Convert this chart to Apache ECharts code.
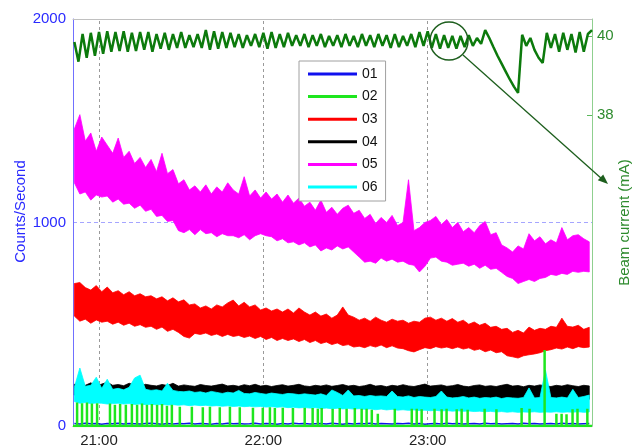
<!DOCTYPE html>
<html>
<head>
<meta charset="utf-8">
<script src="https://cdn.jsdelivr.net/npm/echarts@6.0.0/dist/echarts.min.js"></script>
<style>
html, body { margin: 0; padding: 0; background: #fff; }
#chart { width: 635px; height: 448px; }
</style>
</head>
<body>
<div id="chart"></div>
<script>
"use strict";

// time is in minutes after 20:00
var X_MIN = 50.5, X_MAX = 240;
var BAND_T0 = 51, BAND_STEP = 2;
var BEAM_T0 = 51, BEAM_STEP = 1.5;
var timeTicks = [60, 120, 180];
var beamTicks = [38, 40];
var names = ['01', '02', '03', '04', '05', '06'];

var ch05Hi = [1460,1530,1400,1440,1350,1420,1380,1340,1415,1320,
	1350,1290,1320,1270,1310,1250,1340,1240,1260,1190,
	1210,1160,1180,1150,1185,1140,1175,1150,1195,1160,
	1140,1225,1130,1160,1120,1150,1115,1140,1100,1135,
	1095,1120,1080,1100,1060,1110,1050,1075,1040,1070,
	1085,1045,1060,1020,1040,995,1025,1000,1035,985,
	1000,1210,960,975,1000,1010,1030,990,1015,975,
	1000,955,975,950,985,1005,940,950,890,875,
	855,885,870,945,910,930,895,915,900,975,
	915,935,940,920,905];
var ch05Lo = [1195,1140,1150,1110,1135,1125,1130,1100,1115,1090,
	1095,1070,1085,1055,1065,1030,1035,1005,1010,960,
	950,965,940,965,945,950,930,945,935,935,
	925,940,915,935,945,935,930,910,920,900,
	905,890,900,880,890,860,875,865,885,870,
	880,855,830,805,810,800,825,810,820,805,
	810,795,790,757,785,825,830,810,805,790,
	795,800,785,795,775,790,770,775,755,735,
	725,700,710,720,710,725,730,745,740,750,
	745,760,755,760,757];

var ch03Hi = [700,705,680,668,690,660,683,655,665,645,
	660,640,650,635,640,625,635,615,630,610,
	620,595,600,580,590,575,595,585,605,619,
	590,608,585,595,570,580,565,575,560,575,
	555,580,560,545,560,540,550,530,545,585,
	545,535,520,530,515,535,520,510,525,515,
	520,505,515,510,530,535,520,530,515,528,
	510,520,500,511,495,505,485,490,475,480,
	460,470,457,486,470,480,475,490,485,530,
	490,486,495,475,485];
var ch03Lo = [540,515,525,505,521,510,515,500,510,495,
	505,490,498,485,490,475,486,465,475,460,
	440,432,455,450,457,445,452,440,450,440,
	445,435,442,430,440,425,435,420,430,420,
	428,415,425,410,420,405,413,400,408,395,
	400,388,392,385,395,388,398,385,394,383,
	380,370,364,375,385,380,390,383,388,380,
	388,378,384,372,378,365,373,360,365,345,
	340,334,345,350,354,360,370,375,383,378,
	388,380,390,385,388];

var ch04Hi = [205,210,200,212,198,206,215,200,204,198,
	210,202,196,205,200,197,204,199,210,196,
	202,198,195,204,199,196,201,206,197,200,
	195,203,198,205,196,200,194,199,203,196,
	200,205,197,194,200,196,202,195,199,204,
	196,200,194,198,205,196,199,193,200,196,
	203,197,194,200,206,196,199,202,195,198,
	204,196,193,199,202,195,198,194,200,205,
	196,199,193,200,196,202,197,194,200,196,
	203,198,194,200,197];
var ch04Lo = [152,148,150,146,151,147,149,145,150,146,
	148,144,149,145,147,143,148,144,146,142,
	147,143,145,141,146,142,144,140,145,141,
	143,139,144,140,142,138,143,139,141,137,
	142,138,140,136,141,137,139,135,140,136,
	138,134,139,135,137,133,138,134,136,132,
	137,133,135,131,136,132,134,130,135,131,
	133,130,134,130,133,129,134,130,132,128,
	133,129,131,128,132,129,131,128,132,129,
	131,128,132,129,131];

var ch06Hi = [190,285,195,200,240,185,230,180,185,178,
	190,236,250,180,175,178,172,210,175,170,
	168,172,165,168,162,170,165,160,166,162,
	175,160,158,165,160,156,162,158,155,160,
	158,154,158,155,152,158,150,177,165,150,
	177,148,150,145,150,146,148,145,172,145,
	142,148,140,145,142,140,145,172,142,138,
	140,145,138,142,136,140,138,142,135,140,
	138,136,140,187,138,140,275,140,138,142,
	138,180,140,145,152];
var ch06Lo = [120,112,115,110,113,112,108,110,112,108,
	110,106,108,105,107,104,106,103,105,102,
	104,100,103,100,102,98,100,97,99,96,
	98,95,97,94,96,93,95,92,94,90,
	92,89,91,88,90,86,88,85,87,84,
	86,83,85,82,84,80,83,79,82,78,
	80,77,79,76,78,75,77,74,76,73,
	75,72,74,71,73,70,72,69,71,68,
	70,67,69,68,70,67,69,68,70,67,
	69,68,70,67,69];

var ch01 = [12,10,13,11,12,9,12,11,13,10,
	12,11,10,12,13,11,9,12,10,12,
	11,13,10,12,11,9,12,10,13,11,
	12,10,11,13,10,12,11,9,12,10,
	13,11,12,10,11,12,10,13,11,9,
	12,10,12,11,13,10,12,11,10,12,
	11,13,10,12,9,11,12,10,13,11,
	12,10,11,12,10,13,11,12,10,11,
	12,10,13,11,12,10,11,12,10,13,
	11,12,10,11,12];

var ch02SpikeTimes = [52.0,53.8,55.6,57.4,59.3,64.0,65.8,67.7,69.8,72.0,
	73.9,75.7,77.5,79.3,81.2,83.0,84.8,86.6,89.5,93.9,
	97.9,100.5,104.1,107.8,111.4,116.2,119.8,122.4,124.2,127.1,
	130.8,135.1,138.0,139.9,141.3,145.3,147.9,150.4,153.4,155.9,
	157.7,159.6,161.8,168.0,174.2,176.0,177.8,182.5,185.1,186.9,
	190.6,192.4,194.6,200.8,205.1,214.3,217.2,222.7,227.0,228.9,
	230.7,232.9,234.7,238.3];
var ch02SpikeHeights = [115,112,115,110,112,110,105,108,105,108,
	105,110,105,108,105,108,100,105,95,95,
	92,95,92,95,92,90,90,92,88,90,
	88,90,88,85,88,85,88,85,88,85,
	85,80,60,85,85,85,82,85,82,85,
	82,85,80,85,82,88,85,373,60,60,
	58,82,85,85];

var beamCurrent = [39.85,39.35,40.05,39.45,40.08,39.5,40.1,39.55,40.12,39.6,
	40.1,39.62,40.12,39.6,40.08,39.62,40.1,39.65,40.1,39.6,
	40.05,39.68,40.08,39.65,40.05,39.7,40.1,39.7,40.02,39.72,
	40.05,39.7,40.15,39.65,40.12,39.68,40.1,39.7,40.08,39.72,
	40.05,39.7,40.02,39.75,40.05,39.72,40.08,39.68,40.1,39.7,
	40.05,39.72,40.08,39.75,40.02,39.75,40.05,39.72,40.02,39.75,
	40.05,39.72,40.0,39.75,40.02,39.72,40.05,39.75,40.0,39.72,
	40.05,39.75,40.02,39.72,40.05,39.75,40.02,39.7,40.05,39.72,
	40.0,39.75,40.05,39.72,40.1,39.75,40.12,39.7,40.05,39.68,
	40.02,39.7,40.0,39.68,40.0,39.72,40.02,39.75,39.95,39.8,
	40.15,39.95,39.72,39.5,39.3,39.1,38.9,38.72,38.56,40.03,
	39.75,39.95,39.65,39.45,39.32,40.08,39.7,40.05,39.6,40.08,
	39.65,40.05,39.58,40.1,39.6,40.05,40.15];

var FONT = 'Liberation Sans';

function bandTime(i) {
	return BAND_T0 + BAND_STEP * i;
}

function toXY(values) {
	return values.map(function(v, i) { return [bandTime(i), v]; });
}

// one filled polygon between the low and high envelope of a channel
function bandSeries(name, color, hi, lo) {
	var rows = hi.map(function(v, i) { return [bandTime(i), lo[i], v]; });
	return {
		name: name,
		type: 'custom',
		color: color,
		itemStyle: { color: color },
		encode: { x: 0, y: [1, 2] },
		renderItem: function(params, api) {
			if (params.dataIndexInside !== 0) {
				return null;
			}
			var top = [], bottom = [];
			for (var j = 0; j < rows.length; j++) {
				top.push(api.coord([api.value(0, j), api.value(2, j)]));
				bottom.unshift(api.coord([api.value(0, j), api.value(1, j)]));
			}
			return {
				type: 'polygon',
				shape: { points: top.concat(bottom) },
				style: { fill: color, stroke: color, lineWidth: 0.8 }
			};
		},
		data: rows
	};
}

function spikeData(times, heights) {
	var out = [[X_MIN, 0]];
	for (var i = 0; i < times.length; i++) {
		out.push([times[i], 0], [times[i], heights[i]], [times[i], 0]);
	}
	out.push([X_MAX, 0]);
	return out;
}

function clock(v) {
	var h = 20 + Math.floor(v / 60);
	var m = Math.round(v % 60);
	return h + ':' + (m < 10 ? '0' + m : m);
}

var series = [{
	name: '01',
	type: 'line',
	symbol: 'none',
	color: '#1010ee',
	lineStyle: { width: 1.5 },
	data: toXY(ch01),
	markLine: {
		silent: true,
		z: 1,
		symbol: ['none', 'none'],
		label: { show: false },
		lineStyle: { color: '#9a9a9a', type: [3, 3], width: 1 },
		data: timeTicks.map(function(t) { return { xAxis: t }; })
	}
}, {
	name: '02',
	type: 'line',
	symbol: 'none',
	color: '#1ee61e',
	lineStyle: { width: 2.5 },
	data: spikeData(ch02SpikeTimes, ch02SpikeHeights)
},
	bandSeries('03', '#ff0000', ch03Hi, ch03Lo),
	bandSeries('04', '#000000', ch04Hi, ch04Lo),
	bandSeries('05', '#ff00ff', ch05Hi, ch05Lo),
	bandSeries('06', '#00ffff', ch06Hi, ch06Lo),
{
	name: 'Beam current',
	type: 'line',
	yAxisIndex: 1,
	symbol: 'none',
	color: '#0c7a0c',
	lineStyle: { width: 2.5 },
	data: beamCurrent.map(function(v, i) { return [BEAM_T0 + BEAM_STEP * i, v]; })
}];

var chart = echarts.init(document.getElementById('chart'));
chart.setOption({
	animation: false,
	backgroundColor: '#fff',
	grid: { left: 73, right: 43, top: 19, bottom: 22, outerBoundsMode: 'none', containLabel: false },
	legend: {
		orient: 'vertical',
		left: 299,
		top: 61,
		icon: 'rect',
		itemWidth: 49,
		itemHeight: 3,
		itemGap: 6.6,
		padding: [5, 8, 6, 9],
		borderColor: '#a0a0a0',
		borderWidth: 1,
		backgroundColor: '#fff',
		textStyle: { fontFamily: FONT, fontSize: 14, lineHeight: 16, color: '#111' },
		data: names
	},
	xAxis: [{
		type: 'value',
		min: X_MIN,
		max: X_MAX,
		axisLine: { lineStyle: { color: '#999' } },
		axisTick: { show: false },
		splitLine: { show: false },
		axisLabel: {
			customValues: timeTicks,
			formatter: clock,
			color: '#222',
			fontFamily: FONT,
			fontSize: 15,
			margin: 7
		}
	}, {
		type: 'value',
		position: 'top',
		min: X_MIN,
		max: X_MAX,
		axisLine: { lineStyle: { color: '#c0c0c0' } },
		axisTick: { show: false },
		axisLabel: { show: false },
		splitLine: { show: false }
	}],
	yAxis: [{
		type: 'value',
		min: 0,
		max: 2000,
		interval: 1000,
		axisLine: { show: true, lineStyle: { color: '#7070ff' } },
		axisTick: { show: false },
		axisLabel: {
			color: '#2a2aff', fontFamily: FONT, fontSize: 15, margin: 7,
			formatter: function(v) { return String(v); }
		},
		splitLine: {
			show: true,
			lineStyle: { color: ['rgba(0,0,0,0)', '#a5a5ff', 'rgba(0,0,0,0)'], type: [4, 3] }
		},
		name: 'Counts/Second',
		nameLocation: 'middle',
		nameRotate: 90,
		nameGap: 45,
		nameMoveOverlap: false,
		nameTextStyle: { color: '#2a2aff', fontFamily: FONT, fontSize: 15, padding: [0, 0, 0, 22] }
	}, {
		type: 'value',
		position: 'right',
		min: 30.13,
		max: 40.43,
		axisLine: { show: true, lineStyle: { color: '#8fd08f' } },
		axisTick: { show: true, inside: true, length: 5, customValues: beamTicks, lineStyle: { color: '#5cb85c' } },
		axisLabel: { customValues: beamTicks, color: '#2e8b2e', fontFamily: FONT, fontSize: 15, margin: 5 },
		splitLine: { show: false },
		name: 'Beam current (mA)',
		nameLocation: 'middle',
		nameRotate: 90,
		nameGap: 25,
		nameMoveOverlap: false,
		nameTextStyle: { color: '#2e8b2e', fontFamily: FONT, fontSize: 15 }
	}],
	graphic: [{
		type: 'circle',
		z: 100,
		shape: { cx: 449, cy: 41, r: 19 },
		style: { fill: 'none', stroke: '#1d5e1d', lineWidth: 1.5 }
	}, {
		type: 'line',
		z: 100,
		shape: { x1: 463, y1: 55, x2: 602, y2: 179 },
		style: { stroke: '#1d5e1d', lineWidth: 1.3 }
	}, {
		type: 'polygon',
		z: 100,
		shape: { points: [[608, 184], [597.8, 180.3], [603.2, 174.4]] },
		style: { fill: '#1d5e1d' }
	}],
	series: series
});
</script>
</body>
</html>
